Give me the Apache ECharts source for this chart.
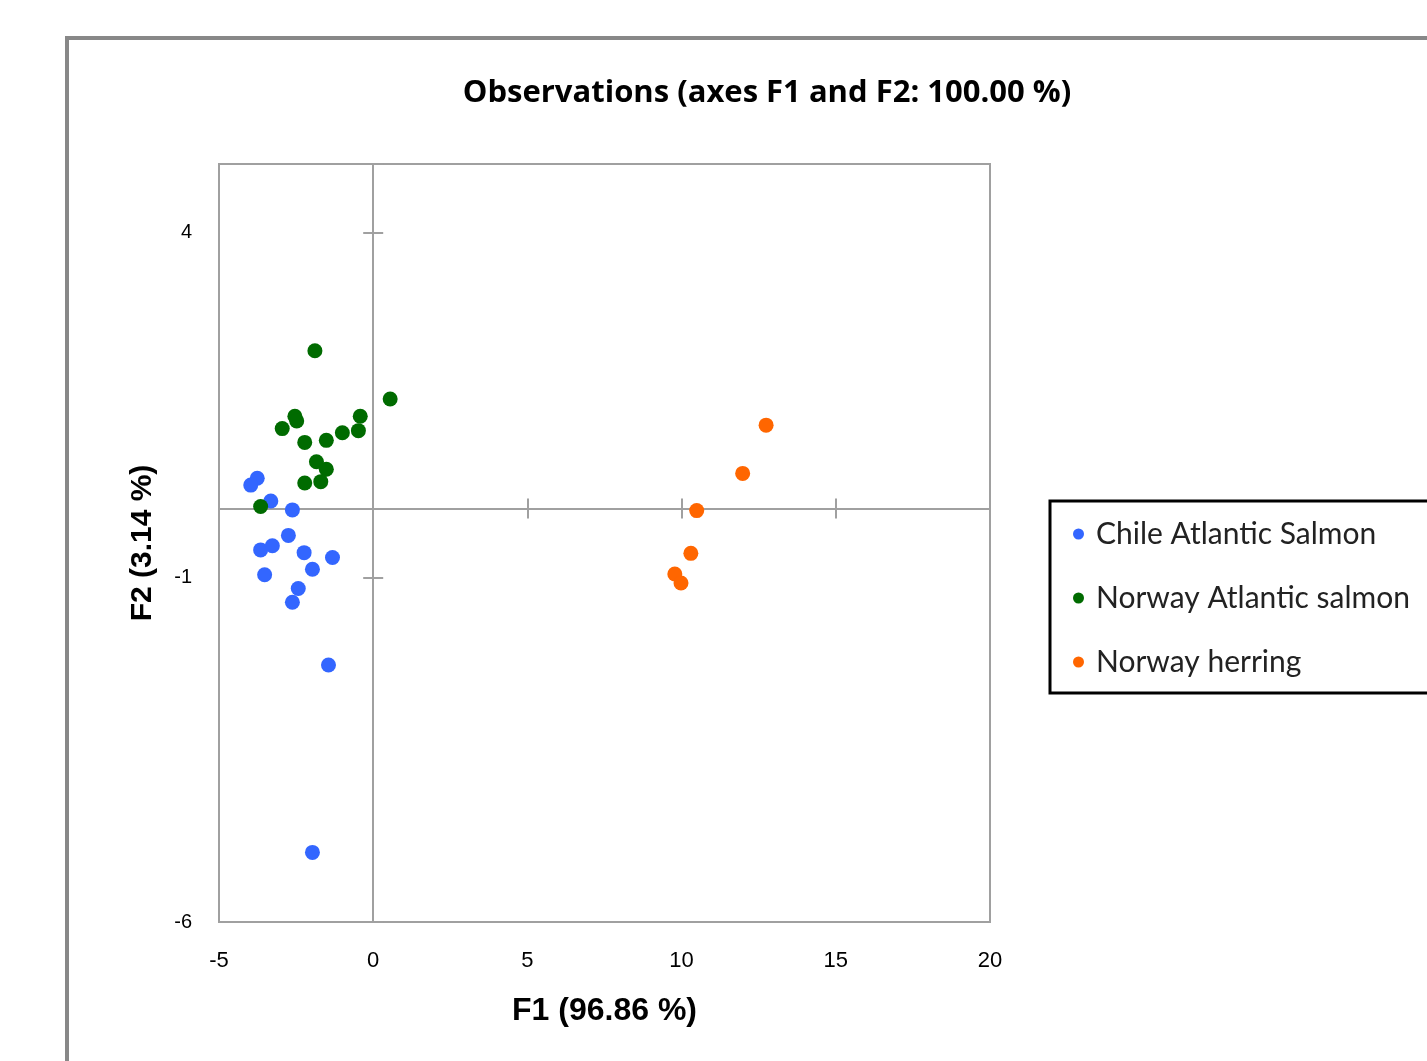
<!DOCTYPE html>
<html>
<head>
<meta charset="utf-8">
<title>Observations (axes F1 and F2: 100.00 %)</title>
<script src="https://cdn.jsdelivr.net/npm/echarts@6/dist/echarts.min.js"></script>
<style>
  html, body { margin: 0; padding: 0; background: #fff; }
  #chart { width: 1427px; height: 1061px; }
</style>
</head>
<body>
<div id="chart"></div>
<script>
// observations, [F1, F2]
const chileSalmon = [
  [-3.76, 0.44], [-3.97, 0.34], [-3.32, 0.11], [-2.62, -0.02], [-2.75, -0.39],
  [-3.65, -0.60], [-3.27, -0.54], [-2.24, -0.64], [-1.32, -0.71], [-1.97, -0.88],
  [-3.52, -0.96], [-2.43, -1.16], [-2.62, -1.36], [-1.45, -2.27], [-1.97, -4.99]
]
const norwaySalmon = [
  [-1.89, 2.29], [0.55, 1.59], [-2.54, 1.34], [-2.48, 1.27], [-2.95, 1.16],
  [-0.42, 1.34], [-0.48, 1.13], [-1.00, 1.10], [-1.52, 0.99], [-2.22, 0.96],
  [-1.84, 0.68], [-1.52, 0.57], [-1.70, 0.39], [-2.22, 0.37], [-3.65, 0.03]
]
const norwayHerring = [
  [12.74, 1.21], [11.98, 0.51], [10.49, -0.03], [10.30, -0.65], [9.78, -0.95], [9.98, -1.08]
]

const seriesNames = ['Chile Atlantic Salmon', 'Norway Atlantic salmon', 'Norway herring']
const seriesColors = ['#3366ff', '#006b00', '#ff6600']
const xTickLabels = [-5, 0, 5, 10, 15, 20]
const yTickLabels = [-6, -1, 4]

const chart = echarts.init(document.getElementById('chart'))

const axisGray = '#a0a0a0'

// axis through zero, only line + ticks (one side per axis, two make the cross)
const zeroAxis = (dim, inside, showLine) => ({
  type: 'value',
  min: dim === 'x' ? -5 : -6,
  max: dim === 'x' ? 20 : 5,
  interval: 5,
  axisLine: { show: showLine, onZero: true, lineStyle: { color: axisGray, width: 2 } },
  axisTick: { show: true, inside: inside, length: 10, lineStyle: { color: axisGray, width: 2 } },
  axisLabel: { show: false },
  splitLine: { show: false }
})

const option = {
  animation: false,
  backgroundColor: '#fff',
  title: {
    text: 'Observations (axes F1 and F2: 100.00 %)',
    left: 762,
    top: 73,
    textAlign: 'center',
    textStyle: { fontFamily: 'Open Sans', fontWeight: 'bold', fontSize: 31, color: '#000' }
  },
  graphic: [
    {
      type: 'rect', z: -10,
      shape: { x: 67, y: 38, width: 1500, height: 1200 },
      style: { fill: 'none', stroke: '#888', lineWidth: 4 }
    },
    {
      type: 'rect', z: -10,
      shape: { x: 1050, y: 501, width: 500, height: 192 },
      style: { fill: '#fff', stroke: '#000', lineWidth: 3 }
    }
  ],
  legend: {
    orient: 'vertical',
    left: 1073,
    top: 519,
    padding: 0,
    itemGap: 34,
    itemWidth: 11,
    itemHeight: 11,
    icon: 'circle',
    data: seriesNames,
    textStyle: { fontFamily: 'Lato', fontSize: 30, lineHeight: 30, color: '#222', padding: [0, 0, 0, 7] }
  },
  grid: {
    left: 219,
    top: 164,
    width: 771,
    height: 758,
    show: true,
    borderColor: axisGray,
    borderWidth: 2
  },
  xAxis: [
    {
      type: 'value',
      min: -5,
      max: 20,
      interval: 5,
      position: 'bottom',
      axisLine: { show: false, onZero: false },
      axisTick: { show: false },
      splitLine: { show: false },
      axisLabel: {
        margin: 28,
        fontFamily: 'Liberation Sans',
        fontSize: 22,
        color: '#000',
        formatter: v => (xTickLabels.includes(v) ? String(v) : '')
      },
      name: 'F1 (96.86 %)',
      nameLocation: 'middle',
      nameGap: 73,
      nameTextStyle: { fontFamily: 'Liberation Sans', fontWeight: 'bold', fontSize: 32, color: '#000' }
    },
    zeroAxis('x', true, true),
    zeroAxis('x', false, false)
  ],
  yAxis: [
    {
      type: 'value',
      min: -6,
      max: 5,
      interval: 5,
      position: 'left',
      axisLine: { show: false, onZero: false },
      axisTick: { show: false },
      splitLine: { show: false },
      axisLabel: {
        margin: 27,
        fontFamily: 'Liberation Sans',
        fontSize: 20,
        color: '#000',
        formatter: v => (yTickLabels.includes(v) ? String(v) : '')
      },
      name: 'F2 (3.14 %)',
      nameLocation: 'middle',
      nameGap: 61,
      nameTextStyle: { fontFamily: 'Liberation Sans', fontWeight: 'bold', fontSize: 30, color: '#000' }
    },
    zeroAxis('y', true, true),
    zeroAxis('y', false, false)
  ],
  series: [chileSalmon, norwaySalmon, norwayHerring].map((data, i) => ({
    name: seriesNames[i],
    type: 'scatter',
    xAxisIndex: 0,
    yAxisIndex: 0,
    symbolSize: 15,
    itemStyle: { color: seriesColors[i], opacity: 1 },
    data: data
  }))
}

chart.setOption(option)
</script>
</body>
</html>
